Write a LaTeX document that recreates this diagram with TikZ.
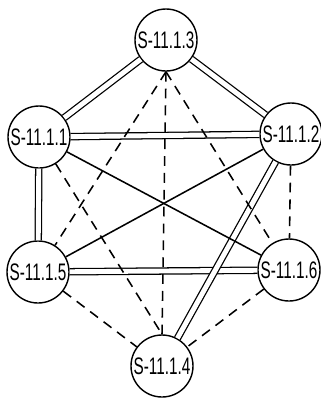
\documentclass[tikz,border=0pt]{standalone}
\usepackage{fontspec}
\setsansfont{Liberation Sans}

\newcommand{\lbl}[1]{\scalebox{0.64}[1]{#1}}

\tikzset{
    station/.style={draw, circle, line width=1pt, minimum size=1.55cm, inner sep=0pt, font=\sffamily\fontsize{17}{17}\selectfont},
    strong/.style={double, double distance=3.5pt, line width=0.9pt},
    weak/.style={dash pattern=on 7pt off 5pt, line width=1.1pt},
    link/.style={line width=1.1pt}
}

\begin{document}
\begin{tikzpicture}

    \useasboundingbox (0,0) rectangle (8.025,-9.95);

    % Stations
    \node[station] at (4.15,-1.0) (S3) {\lbl{S-11.1.3}};
    \node[station] at (0.975,-3.425) (S1) {\lbl{S-11.1.1}};
    \node[station] at (7.275,-3.35) (S2) {\lbl{S-11.1.2}};
    \node[station] at (0.95,-6.8) (S5) {\lbl{S-11.1.5}};
    \node[station] at (7.225,-6.75) (S6) {\lbl{S-11.1.6}};
    \node[station] at (4.05,-9.15) (S4) {\lbl{S-11.1.4}};

    % Double links
    \draw[strong] (S3) -- (S1);
    \draw[strong] (S3) -- (S2);
    \draw[strong] (S1) -- (S2);
    \draw[strong] (S1) -- (S5);
    \draw[strong] (S5) -- (S6);
    \draw[strong] (S2) -- (S4);

    % Solid links
    \draw[link] (S1) -- (S6);
    \draw[link] (S2) -- (S5);

    % Dashed links
    \draw[weak] (S3.south) -- (S5);
    \draw[weak] (S3.south) -- (S4.north);
    \draw[weak] (S3.south) -- (S6);
    \draw[weak] (S1) -- (S4.north);
    \draw[weak] (S2) -- (S6);
    \draw[weak] (S5) -- (S4);
    \draw[weak] (S6) -- (S4);

\end{tikzpicture}
\end{document}
